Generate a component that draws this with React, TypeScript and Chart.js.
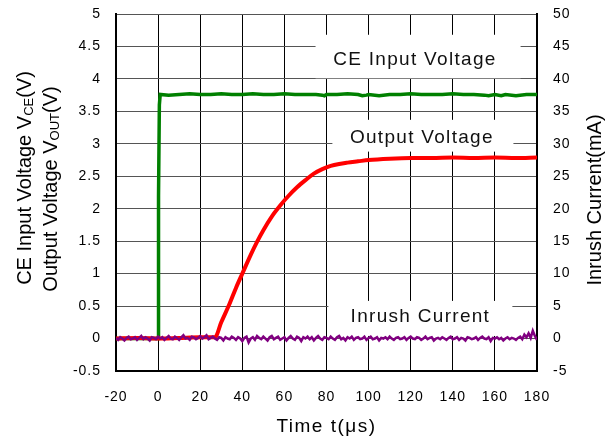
import { useEffect, useRef } from 'react';
import { Chart, registerables } from 'chart.js';

Chart.register(...registerables);

// ---- Data ----
// CE input voltage (V)
const ceTime = [-20, 0, 0.2, 0.6, 1, 5, 10, 15, 20, 25, 30, 35, 40, 45, 50, 55, 60, 65, 70, 75, 78, 79, 80, 85, 90, 95, 97, 99, 100, 105, 110, 115, 120, 125, 130, 135, 140, 145, 150, 155, 157, 160, 163, 165, 170, 175, 180];
const ceVolt = [0, 0, 2.2, 3.6, 3.76, 3.75, 3.76, 3.77, 3.76, 3.76, 3.77, 3.76, 3.76, 3.77, 3.76, 3.76, 3.77, 3.76, 3.76, 3.76, 3.75, 3.74, 3.76, 3.76, 3.77, 3.76, 3.74, 3.75, 3.76, 3.74, 3.76, 3.76, 3.77, 3.76, 3.76, 3.76, 3.77, 3.76, 3.76, 3.75, 3.74, 3.76, 3.74, 3.76, 3.74, 3.76, 3.76];

// Output voltage (V)
const outTime = [-20, -10, 0, 10, 20, 27, 30, 34, 37, 40, 44, 47, 50, 54, 58, 62, 66, 70, 74, 78, 82, 86, 90, 95, 100, 110, 120, 130, 140, 150, 160, 170, 180];
const outVolt = [0, 0.01, 0, 0.01, 0.02, 0.02, 0.25, 0.54, 0.78, 1.0, 1.29, 1.49, 1.67, 1.88, 2.05, 2.2, 2.33, 2.44, 2.54, 2.61, 2.66, 2.69, 2.71, 2.73, 2.75, 2.77, 2.78, 2.78, 2.79, 2.78, 2.79, 2.78, 2.79];

// Inrush current (mA), one sample per microsecond from -20 to 180
const inrushStart = -20;
const inrushMA = [
  0.1, -0.2, 0.2, 0.0, -0.3, 0.1, 0.3, -0.1, 0.0, 0.2, -0.2, 0.1, 0.4, -0.1, 0.2, 0.0, -0.3, 0.2, 0.1, -0.1,
  0.3, 0.0, 0.2, -0.2, 0.1, 0.4, 0.0, -0.1, 0.3, 0.1, -0.2, 0.2, 0.5, 0.0, 0.1, -0.2, 0.3, 0.2, -0.1, 0.1,
  0.4, 0.0, 0.2, 0.5, -0.1, 0.1, 0.3, 0.0, -0.2, 0.2, 0.1, -0.3, 0.2, 0.0, -0.1, 0.3, 0.1, -0.2, 0.2, 0.0,
  -0.4, 0.1, 0.3, -0.6, 0.0, 0.2, -0.2, 0.4, 0.1, -0.1, 0.3, 0.0, -0.3, 0.2, 0.4, -0.1, 0.1, 0.3, -0.2, 0.0,
  0.2, -0.3, 0.1, 0.4, 0.0, -0.2, 0.3, 0.1, -0.4, 0.2, 0.0, 0.3, -0.1, 0.2, -0.3, 0.1, 0.4, 0.0, -0.2, 0.2,
  0.1, -0.1, 0.3, 0.0, -0.2, 0.2, 0.4, -0.1, 0.1, -0.3, 0.2, 0.0, 0.3, -0.2, 0.1, 0.2, -0.1, 0.0, 0.3, -0.2,
  0.1, 0.3, -0.1, 0.0, 0.2, -0.3, 0.1, 0.0, 0.2, -0.1, 0.3, 0.0, -0.2, 0.1, 0.2, -0.1, 0.0, 0.2, -0.2, 0.1,
  0.3, 0.0, -0.1, 0.2, 0.1, -0.2, 0.0, 0.3, -0.1, 0.1, 0.2, -0.3, 0.0, 0.1, -0.1, 0.2, 0.0, -0.2, 0.1, 0.3,
  -0.1, 0.0, 0.2, -0.2, 0.1, 0.0, -0.3, 0.2, 0.1, -0.1, 0.0, 0.2, -0.2, 0.1, 0.3, 0.0, -0.1, 0.2, -0.4, 0.1,
  0.0, 0.2, -0.1, 0.1, -0.3, 0.0, 0.2, -0.1, 0.1, 0.0, -0.2, 0.1, 0.3, -0.1, 0.6, 0.2, 0.8, 0.1, 1.2, 0.4, -0.2,
];
const inrushTime = inrushMA.map((_, i) => inrushStart + i);

// Axis ranges
const timeMin = -20, timeMax = 180, timeStep = 20;
const voltMin = -0.5, voltMax = 5, voltStep = 0.5;
const currMin = -5, currMax = 50, currStep = 5;

// Series labels (in-plot text boxes), in data units
const seriesLabels = [
  { text: 'CE Input Voltage', x: 122, y: 4.21, box: [74.8, 172.2, 4.68, 4.01] },
  { text: 'Output Voltage', x: 125.3, y: 3.01, box: [82.8, 168.8, 3.37, 2.88] },
  { text: 'Inrush Current', x: 124.6, y: 0.26, box: [80.9, 168.3, 0.58, 0.04] },
];

const FONT = 'Liberation Sans';

function drawRotatedRich(ctx: CanvasRenderingContext2D, parts: { t: string; size: number; dy: number }[], cx: number, cy: number) {
  ctx.save();
  ctx.translate(cx, cy);
  ctx.rotate(-Math.PI / 2);
  ctx.textAlign = 'left';
  ctx.textBaseline = 'alphabetic';
  ctx.fillStyle = '#000';
  (ctx as any).letterSpacing = '0px';
  let total = 0;
  const widths = parts.map((p) => {
    ctx.font = `${p.size}px "${FONT}"`;
    const w = ctx.measureText(p.t).width;
    total += w;
    return w;
  });
  let x = -total / 2;
  parts.forEach((p, i) => {
    ctx.font = `${p.size}px "${FONT}"`;
    ctx.fillText(p.t, x, p.dy);
    x += widths[i];
  });
  ctx.restore();
}

const annotPlugin = {
  id: 'annot',
  beforeDraw(chart: any) {
    (chart.ctx as any).letterSpacing = '1px';
  },
  beforeDatasetsDraw(chart: any) {
    const ctx = chart.ctx as CanvasRenderingContext2D;
    const xs = chart.scales.x;
    const ys = chart.scales.y;
    ctx.save();
    ctx.fillStyle = '#fff';
    seriesLabels.forEach((l) => {
      const x0 = xs.getPixelForValue(l.box[0]);
      const x1 = xs.getPixelForValue(l.box[1]);
      const y0 = ys.getPixelForValue(l.box[2]);
      const y1 = ys.getPixelForValue(l.box[3]);
      ctx.fillRect(x0, y0, x1 - x0, y1 - y0);
    });
    ctx.fillStyle = '#111';
    ctx.font = `19px "${FONT}"`;
    (ctx as any).letterSpacing = '1.3px';
    ctx.textAlign = 'center';
    ctx.textBaseline = 'alphabetic';
    seriesLabels.forEach((l) => {
      ctx.fillText(l.text, xs.getPixelForValue(l.x), ys.getPixelForValue(l.y));
    });
    ctx.restore();
  },
  afterDraw(chart: any) {
    const ctx = chart.ctx as CanvasRenderingContext2D;
    const area = chart.chartArea;
    // x title
    ctx.save();
    ctx.fillStyle = '#000';
    ctx.font = `19px "${FONT}"`;
    (ctx as any).letterSpacing = '1.5px';
    ctx.textAlign = 'center';
    ctx.textBaseline = 'alphabetic';
    ctx.fillText('Time t(μs)', (area.left + area.right) / 2, 432);
    ctx.restore();
    // left titles
    drawRotatedRich(ctx, [
      { t: 'CE Input Voltage V', size: 20, dy: 0 },
      { t: 'CE', size: 13, dy: 2 },
      { t: '(V)', size: 20, dy: 0 },
    ], 31, 178);
    drawRotatedRich(ctx, [
      { t: 'Output Voltage V', size: 20, dy: 0 },
      { t: 'OUT', size: 13, dy: 2 },
      { t: '(V)', size: 20, dy: 0 },
    ], 57, 189);
    // right title
    drawRotatedRich(ctx, [{ t: 'Inrush Current(mA)', size: 20, dy: 0 }], 601, 200);
  },
};

export default function App() {
  const ref = useRef<HTMLCanvasElement | null>(null);
  useEffect(() => {
    if (!ref.current) return;
    const tickFont = { family: FONT, size: 14 };
    const fitV = (w: number) => (s: any) => { s.width = w; s.paddingTop = 0; s.paddingBottom = 0; };
    const chart = new Chart(ref.current, {
      type: 'line',
      data: {
        datasets: [
          {
            label: 'Inrush Current',
            data: inrushTime.map((t, i) => ({ x: t, y: inrushMA[i] })),
            yAxisID: 'y2',
            borderColor: '#800080',
            borderWidth: 2.5,
            pointRadius: 0,
            tension: 0,
            order: 0,
          },
          {
            label: 'Output Voltage',
            data: outTime.map((t, i) => ({ x: t, y: outVolt[i] })),
            yAxisID: 'y',
            borderColor: '#ff0000',
            borderWidth: 4,
            pointRadius: 0,
            cubicInterpolationMode: 'monotone',
            order: 1,
          },
          {
            label: 'CE Input Voltage',
            data: ceTime.map((t, i) => ({ x: t, y: ceVolt[i] })),
            yAxisID: 'y',
            borderColor: '#008000',
            borderWidth: 3.5,
            pointRadius: 0,
            tension: 0,
            order: 2,
          },
        ],
      },
      options: {
        responsive: false,
        animation: false,
        devicePixelRatio: 1,
        layout: { padding: { top: 14, left: 0, right: 0, bottom: 0 } },
        plugins: { legend: { display: false }, tooltip: { enabled: false } },
        scales: {
          x: {
            type: 'linear',
            min: timeMin,
            max: timeMax,
            ticks: { stepSize: timeStep, padding: 18, font: tickFont, color: '#000', maxRotation: 0 },
            grid: { color: '#000', lineWidth: 1, drawTicks: false },
            border: { color: '#000', width: 2 },
            afterFit: (s: any) => { s.height = 66; s.paddingLeft = 0; s.paddingRight = 0; },
          },
          y: {
            type: 'linear',
            position: 'left',
            min: voltMin,
            max: voltMax,
            ticks: { stepSize: voltStep, padding: 15, font: tickFont, color: '#000', callback: (v: any) => String(Math.round(v * 10) / 10) },
            grid: { color: '#555', lineWidth: 1, drawTicks: false },
            border: { color: '#000', width: 2 },
            afterFit: fitV(116),
          },
          y2: {
            type: 'linear',
            position: 'right',
            min: currMin,
            max: currMax,
            ticks: { stepSize: currStep, padding: 16, font: tickFont, color: '#000', callback: (v: any) => String(Math.round(v)) },
            grid: { drawOnChartArea: false, drawTicks: false },
            border: { color: '#000', width: 2 },
            afterFit: fitV(79),
          },
        },
      },
      plugins: [annotPlugin],
    } as any);
    return () => chart.destroy();
  }, []);
  return (
    <div style={{ position: 'fixed', left: 0, top: 0, width: 616, height: 437, background: '#fff' }}>
      <canvas ref={ref} width={616} height={437} style={{ display: 'block' }} />
    </div>
  );
}
